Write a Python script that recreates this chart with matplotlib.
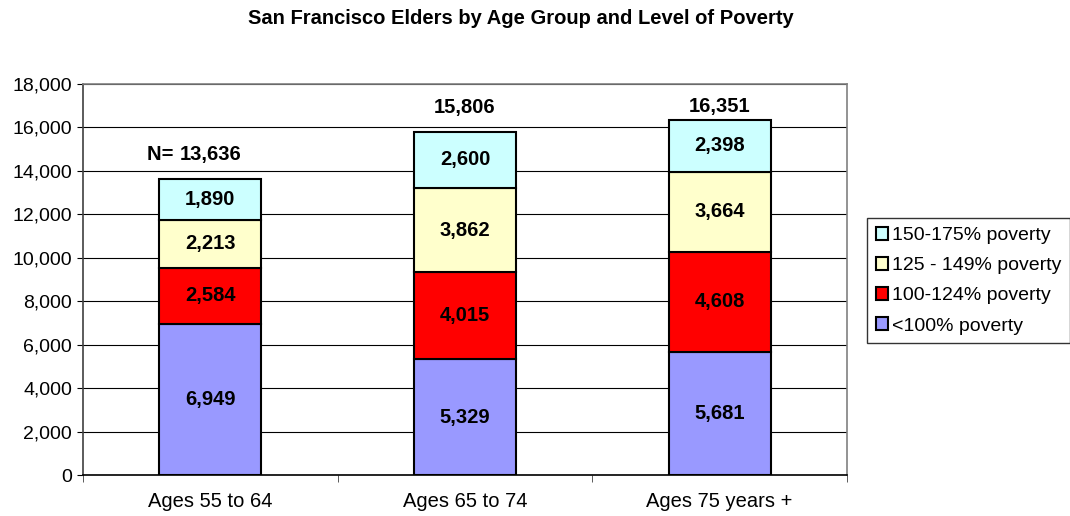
import matplotlib
matplotlib.use("Agg")
import matplotlib.pyplot as plt
import numpy as np
from matplotlib.patches import Patch

plt.rcParams['font.family'] = ['Liberation Sans', 'DejaVu Sans']

categories = ["Ages 55 to 64", "Ages 65 to 74", "Ages 75 years +"]
below_100 = [6949, 5329, 5681]
p100_124 = [2584, 4015, 4608]
p125_149 = [2213, 3862, 3664]
p150_175 = [1890, 2600, 2398]
totals = [13636, 15806, 16351]
total_prefix = ["N= ", "", ""]
series_names = ["<100% poverty", "100-124% poverty", "125 - 149% poverty", "150-175% poverty"]
colors = ["#9999FF", "#FF0000", "#FFFFCC", "#CCFFFF"]

fig = plt.figure(figsize=(10.7, 5.16), dpi=100)
ax = fig.add_axes([83 / 1070, 1 - 475 / 516, 764 / 1070, 391 / 516])

x = np.arange(len(categories))
series = [below_100, p100_124, p125_149, p150_175]
bottom = np.zeros(len(categories))
for vals, col in zip(series, colors):
    vals = np.array(vals)
    ax.bar(x, vals, width=0.40, bottom=bottom, color=col, edgecolor="black",
           linewidth=1.5, zorder=3)
    for xi, b, v in zip(x, bottom, vals):
        ax.text(xi, b + v / 2, f"{v:,}", ha="center", va="center",
                fontsize=14.5, fontweight="bold", zorder=4)
    bottom += vals

for xi, t, pre in zip(x, totals, total_prefix):
    num = ax.text(xi, min(t + 1100, 16950), f"{t:,}", ha="center", va="center",
                  fontsize=14.5, fontweight="bold")
    if pre:
        ax.annotate(pre, xy=(0, 0.5), xycoords=num, ha="right", va="center",
                    fontsize=14.5, fontweight="bold")

ax.set_xlim(-0.5, 2.5)
ax.set_ylim(0, 18000)
ax.set_yticks(np.arange(0, 18001, 2000))
ax.set_yticklabels([f"{v:,}" for v in range(0, 18001, 2000)], fontsize=14)
ax.yaxis.grid(True, color="black", linewidth=0.8, zorder=0)
ax.set_axisbelow(True)
ax.set_xticks(x)
ax.set_xticklabels(categories, fontsize=14.5)
ax.tick_params(axis="x", which="major", length=0, pad=12)
ax.set_xticks([-0.5, 0.5, 1.5, 2.5], minor=True)
ax.tick_params(axis="x", which="minor", length=5, direction="out", color="#404040")
ax.tick_params(axis="y", length=4.5, direction="out", color="black", pad=3.5)
for s in ax.spines.values():
    s.set_color("#808080")
    s.set_linewidth(1.2)
ax.spines["bottom"].set_color("black")
ax.spines["left"].set_color("#404040")

handles = [Patch(facecolor=c, edgecolor="black", linewidth=1.5, label=n)
           for c, n in zip(colors, series_names)][::-1]
leg = fig.legend(handles=handles, loc="upper left",
                 bbox_to_anchor=(867 / 1070, 1 - 218 / 516),
                 fontsize=14, frameon=True, fancybox=False, edgecolor="black",
                 handlelength=0.65, handleheight=0.65, handletextpad=0.2,
                 borderpad=0.45, labelspacing=0.66, borderaxespad=0)
leg.get_frame().set_linewidth(1.0)

fig.text(521 / 1070, 1 - 18 / 516, "San Francisco Elders by Age Group and Level of Poverty",
         ha="center", va="center", fontsize=14.5, fontweight="bold")

fig.savefig("out.png", dpi=100)
